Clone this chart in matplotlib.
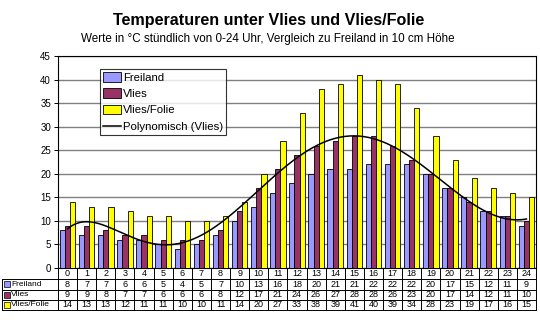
import matplotlib
matplotlib.use("Agg")
import matplotlib.pyplot as plt
import numpy as np
from matplotlib.patches import Rectangle
from matplotlib.transforms import blended_transform_factory

plt.rcParams["font.family"] = ["Liberation Sans", "DejaVu Sans"]

hours = list(range(25))
freiland = [8, 7, 7, 6, 6, 5, 4, 5, 7, 10, 13, 16, 18, 20, 21, 21, 22, 22, 22, 20, 17, 15, 12, 11, 9]
vlies = [9, 9, 8, 7, 7, 6, 6, 6, 8, 12, 17, 21, 24, 26, 27, 28, 28, 26, 23, 20, 17, 14, 12, 11, 10]
vlies_folie = [14, 13, 13, 12, 11, 11, 10, 10, 11, 14, 20, 27, 33, 38, 39, 41, 40, 39, 34, 28, 23, 19, 17, 16, 15]

series_names = ["Freiland", "Vlies", "Vlies/Folie"]
series_colors = ["#9999FF", "#993366", "#FFFF00"]
series_values = [freiland, vlies, vlies_folie]

W, H = 540, 329
fig = plt.figure(figsize=(W / 100, H / 100), dpi=100)
fig.patch.set_facecolor("white")

left, right, top, bottom = 58, 536, 56, 268
ax = fig.add_axes([left / W, 1 - bottom / H, (right - left) / W, (bottom - top) / H])

x = np.arange(len(hours))
bw = 0.27
handles = []
for i, (name, col, vals) in enumerate(zip(series_names, series_colors, series_values)):
    b = ax.bar(x + (i - 1) * bw, vals, width=bw, color=col, edgecolor="black",
               linewidth=0.6, label=name, zorder=3)
    handles.append(b)

# Excel-style polynomial trendline (order 6) through the Vlies series
coef = np.polyfit(x + 1, vlies, 6)
xs = np.linspace(0, 24, 300)
line, = ax.plot(xs, np.polyval(coef, xs + 1), color="black", lw=1.1, zorder=4,
                label="Polynomisch (Vlies)")
handles.append(line)

ax.set_xlim(-0.5, 24.5)
ax.set_ylim(0, 45)
ax.set_yticks(range(0, 46, 5))
ax.yaxis.grid(True, color="#808080", lw=1.0, zorder=0)
ax.set_axisbelow(True)
ax.tick_params(axis="y", labelsize=7, length=3, width=0.7, pad=2)
ax.set_xticks(np.arange(-0.5, 25, 1))
ax.set_xticklabels([])
ax.tick_params(axis="x", length=0)
for s in ax.spines.values():
    s.set_linewidth(0.8)

leg = ax.legend(handles=handles, loc="upper left", bbox_to_anchor=(0.088, 0.94), fontsize=8.2,
                frameon=True, fancybox=False, edgecolor="black",
                handlelength=1.5, handleheight=0.9, handletextpad=0.2,
                labelspacing=0.5, borderpad=0.3, borderaxespad=0)
leg.get_frame().set_linewidth(0.8)

# data table below the axis
tr = blended_transform_factory(ax.transData, fig.transFigure)
trf = fig.transFigure
row_y = [268.3, 279, 289.5, 299.5, 309.5]
ry = [1 - v / H for v in row_y]
lw = 0.7
for k, yv in enumerate(ry):
    xl = left / W if k == 0 else 1.5 / W
    fig.add_artist(plt.Line2D([xl, right / W], [yv, yv], transform=trf, color="black", lw=lw))
for xb in np.arange(-0.5, 25, 1):
    fig.add_artist(plt.Line2D([xb, xb], [ry[0], ry[-1]], transform=tr, color="black", lw=lw))
fig.add_artist(plt.Line2D([1.5 / W, 1.5 / W], [ry[1], ry[-1]], transform=trf, color="black", lw=lw))

for h in hours:
    fig.text(h, (ry[0] + ry[1]) / 2, str(h), transform=tr, ha="center", va="center", fontsize=6.5)
for r, (name, col, vals) in enumerate(zip(series_names, series_colors, series_values)):
    yc = (ry[r + 1] + ry[r + 2]) / 2
    fig.add_artist(Rectangle((4 / W, yc - 3 / H), 6 / W, 6 / H, transform=trf,
                             facecolor=col, edgecolor="black", lw=0.5))
    fig.text(11 / W, yc, name, transform=trf, ha="left", va="center", fontsize=6)
    for h, v in zip(hours, vals):
        fig.text(h, yc, str(v), transform=tr, ha="center", va="center", fontsize=6.5)

fig.text(269 / W, 1 - 21 / H, "Temperaturen unter Vlies und Vlies/Folie",
         ha="center", va="center", fontsize=11.6, fontweight="bold")
fig.text(268 / W, 1 - 39 / H, "Werte in °C stündlich von 0-24 Uhr, Vergleich zu Freiland in 10 cm Höhe",
         ha="center", va="center", fontsize=8.4)

fig.savefig("out.png", dpi=100)
